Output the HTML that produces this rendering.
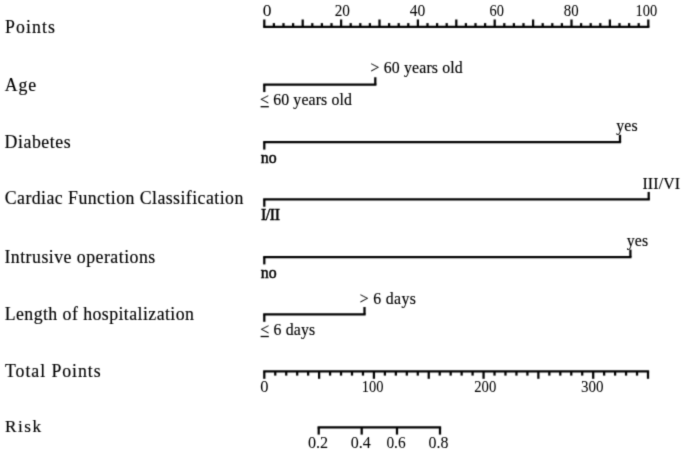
<!DOCTYPE html>
<html><head><meta charset="utf-8"><style>
html,body{margin:0;padding:0;background:#fff;}
body{width:685px;height:452px;overflow:hidden;}
svg{display:block;}
text{font-family:"Liberation Serif",serif;fill:#000;stroke:#000;stroke-width:0.15px;}
text.n{stroke-width:0.05px;}
text.b{stroke-width:0.5px;}
</style></head><body>
<svg width="685" height="452" viewBox="0 0 685 452">
<defs><filter id="f" x="0" y="0" width="685" height="452" filterUnits="userSpaceOnUse" color-interpolation-filters="sRGB"><feConvolveMatrix order="3" kernelMatrix="0.02768 0.11101 0.02768 0.11101 0.44521 0.11101 0.02768 0.11101 0.02768" edgeMode="duplicate"/></filter>
<filter id="ft" x="0" y="0" width="685" height="452" filterUnits="userSpaceOnUse" color-interpolation-filters="sRGB"><feConvolveMatrix order="3" kernelMatrix="0.01917 0.10012 0.01917 0.10012 0.52283 0.10012 0.01917 0.10012 0.01917" edgeMode="duplicate"/></filter></defs>
<rect width="685" height="452" fill="#fff"/>
<g filter="url(#f)">
<g stroke="#000" stroke-width="2.25" fill="none">
<line x1="263.18" y1="26.80" x2="649.42" y2="26.80"/>
<line x1="264.30" y1="26.80" x2="264.30" y2="19.50"/>
<line x1="273.90" y1="26.80" x2="273.90" y2="23.10"/>
<line x1="283.50" y1="26.80" x2="283.50" y2="23.10"/>
<line x1="293.10" y1="26.80" x2="293.10" y2="23.10"/>
<line x1="302.70" y1="26.80" x2="302.70" y2="19.50"/>
<line x1="312.30" y1="26.80" x2="312.30" y2="23.10"/>
<line x1="321.90" y1="26.80" x2="321.90" y2="23.10"/>
<line x1="331.50" y1="26.80" x2="331.50" y2="23.10"/>
<line x1="341.10" y1="26.80" x2="341.10" y2="19.50"/>
<line x1="350.70" y1="26.80" x2="350.70" y2="23.10"/>
<line x1="360.30" y1="26.80" x2="360.30" y2="23.10"/>
<line x1="369.90" y1="26.80" x2="369.90" y2="23.10"/>
<line x1="379.50" y1="26.80" x2="379.50" y2="19.50"/>
<line x1="389.10" y1="26.80" x2="389.10" y2="23.10"/>
<line x1="398.70" y1="26.80" x2="398.70" y2="23.10"/>
<line x1="408.30" y1="26.80" x2="408.30" y2="23.10"/>
<line x1="417.90" y1="26.80" x2="417.90" y2="19.50"/>
<line x1="427.50" y1="26.80" x2="427.50" y2="23.10"/>
<line x1="437.10" y1="26.80" x2="437.10" y2="23.10"/>
<line x1="446.70" y1="26.80" x2="446.70" y2="23.10"/>
<line x1="456.30" y1="26.80" x2="456.30" y2="19.50"/>
<line x1="465.90" y1="26.80" x2="465.90" y2="23.10"/>
<line x1="475.50" y1="26.80" x2="475.50" y2="23.10"/>
<line x1="485.10" y1="26.80" x2="485.10" y2="23.10"/>
<line x1="494.70" y1="26.80" x2="494.70" y2="19.50"/>
<line x1="504.30" y1="26.80" x2="504.30" y2="23.10"/>
<line x1="513.90" y1="26.80" x2="513.90" y2="23.10"/>
<line x1="523.50" y1="26.80" x2="523.50" y2="23.10"/>
<line x1="533.10" y1="26.80" x2="533.10" y2="19.50"/>
<line x1="542.70" y1="26.80" x2="542.70" y2="23.10"/>
<line x1="552.30" y1="26.80" x2="552.30" y2="23.10"/>
<line x1="561.90" y1="26.80" x2="561.90" y2="23.10"/>
<line x1="571.50" y1="26.80" x2="571.50" y2="19.50"/>
<line x1="581.10" y1="26.80" x2="581.10" y2="23.10"/>
<line x1="590.70" y1="26.80" x2="590.70" y2="23.10"/>
<line x1="600.30" y1="26.80" x2="600.30" y2="23.10"/>
<line x1="609.90" y1="26.80" x2="609.90" y2="19.50"/>
<line x1="619.50" y1="26.80" x2="619.50" y2="23.10"/>
<line x1="629.10" y1="26.80" x2="629.10" y2="23.10"/>
<line x1="638.70" y1="26.80" x2="638.70" y2="23.10"/>
<line x1="648.30" y1="26.80" x2="648.30" y2="19.50"/>
<line x1="263.18" y1="84.65" x2="376.43" y2="84.65"/>
<line x1="264.30" y1="84.65" x2="264.30" y2="92.05"/>
<line x1="375.30" y1="84.65" x2="375.30" y2="77.25"/>
<line x1="263.18" y1="142.20" x2="621.12" y2="142.20"/>
<line x1="264.30" y1="142.20" x2="264.30" y2="149.60"/>
<line x1="620.00" y1="142.20" x2="620.00" y2="134.80"/>
<line x1="263.18" y1="199.35" x2="649.83" y2="199.35"/>
<line x1="264.30" y1="199.35" x2="264.30" y2="206.75"/>
<line x1="648.70" y1="199.35" x2="648.70" y2="191.95"/>
<line x1="263.18" y1="257.00" x2="631.52" y2="257.00"/>
<line x1="264.30" y1="257.00" x2="264.30" y2="264.40"/>
<line x1="630.40" y1="257.00" x2="630.40" y2="249.60"/>
<line x1="263.18" y1="314.40" x2="365.62" y2="314.40"/>
<line x1="264.30" y1="314.40" x2="264.30" y2="321.80"/>
<line x1="364.50" y1="314.40" x2="364.50" y2="307.00"/>
<line x1="263.18" y1="371.40" x2="649.12" y2="371.40"/>
<line x1="264.30" y1="371.40" x2="264.30" y2="378.80"/>
<line x1="275.26" y1="371.40" x2="275.26" y2="375.60"/>
<line x1="286.23" y1="371.40" x2="286.23" y2="375.60"/>
<line x1="297.19" y1="371.40" x2="297.19" y2="375.60"/>
<line x1="308.15" y1="371.40" x2="308.15" y2="375.60"/>
<line x1="319.11" y1="371.40" x2="319.11" y2="378.80"/>
<line x1="330.08" y1="371.40" x2="330.08" y2="375.60"/>
<line x1="341.04" y1="371.40" x2="341.04" y2="375.60"/>
<line x1="352.00" y1="371.40" x2="352.00" y2="375.60"/>
<line x1="362.97" y1="371.40" x2="362.97" y2="375.60"/>
<line x1="373.93" y1="371.40" x2="373.93" y2="378.80"/>
<line x1="384.89" y1="371.40" x2="384.89" y2="375.60"/>
<line x1="395.85" y1="371.40" x2="395.85" y2="375.60"/>
<line x1="406.82" y1="371.40" x2="406.82" y2="375.60"/>
<line x1="417.78" y1="371.40" x2="417.78" y2="375.60"/>
<line x1="428.74" y1="371.40" x2="428.74" y2="378.80"/>
<line x1="439.71" y1="371.40" x2="439.71" y2="375.60"/>
<line x1="450.67" y1="371.40" x2="450.67" y2="375.60"/>
<line x1="461.63" y1="371.40" x2="461.63" y2="375.60"/>
<line x1="472.59" y1="371.40" x2="472.59" y2="375.60"/>
<line x1="483.56" y1="371.40" x2="483.56" y2="378.80"/>
<line x1="494.52" y1="371.40" x2="494.52" y2="375.60"/>
<line x1="505.48" y1="371.40" x2="505.48" y2="375.60"/>
<line x1="516.45" y1="371.40" x2="516.45" y2="375.60"/>
<line x1="527.41" y1="371.40" x2="527.41" y2="375.60"/>
<line x1="538.37" y1="371.40" x2="538.37" y2="378.80"/>
<line x1="549.33" y1="371.40" x2="549.33" y2="375.60"/>
<line x1="560.30" y1="371.40" x2="560.30" y2="375.60"/>
<line x1="571.26" y1="371.40" x2="571.26" y2="375.60"/>
<line x1="582.22" y1="371.40" x2="582.22" y2="375.60"/>
<line x1="593.19" y1="371.40" x2="593.19" y2="378.80"/>
<line x1="604.15" y1="371.40" x2="604.15" y2="375.60"/>
<line x1="615.11" y1="371.40" x2="615.11" y2="375.60"/>
<line x1="626.07" y1="371.40" x2="626.07" y2="375.60"/>
<line x1="637.04" y1="371.40" x2="637.04" y2="375.60"/>
<line x1="648.00" y1="371.40" x2="648.00" y2="378.80"/>
<line x1="317.57" y1="427.40" x2="441.12" y2="427.40"/>
<line x1="318.70" y1="427.40" x2="318.70" y2="434.60"/>
<line x1="361.70" y1="427.40" x2="361.70" y2="434.60"/>
<line x1="397.00" y1="427.40" x2="397.00" y2="434.60"/>
<line x1="440.00" y1="427.40" x2="440.00" y2="434.60"/>
</g>
</g>
<g filter="url(#ft)">
<text x="5.00" y="32.60" font-size="17.8" letter-spacing="1.070">Points</text>
<text x="4.85" y="91.40" font-size="17.8" letter-spacing="0.775">Age</text>
<text x="4.60" y="148.40" font-size="17.8" letter-spacing="0.543">Diabetes</text>
<text x="4.75" y="203.80" font-size="17.8" letter-spacing="0.445">Cardiac Function Classification</text>
<text x="4.45" y="263.00" font-size="17.8" letter-spacing="0.476">Intrusive operations</text>
<text x="4.70" y="320.00" font-size="17.8" letter-spacing="0.438">Length of hospitalization</text>
<text x="5.05" y="376.60" font-size="17.8" letter-spacing="0.941">Total Points</text>
<text x="5.00" y="432.10" font-size="17.2" letter-spacing="1.500">Risk</text>
<text x="370.55" y="73.20" font-size="15.8" letter-spacing="0.165">&gt; 60 years old</text>
<text x="260.05" y="105.30" font-size="15.8" letter-spacing="0.142">&lt; 60 years old</text>
<text x="616.15" y="131.00" font-size="15.8" letter-spacing="0.225">yes</text>
<text class="b" x="260.75" y="163.40" font-size="15.8" letter-spacing="-0.000">no</text>
<text x="642.40" y="188.70" font-size="15.8" letter-spacing="0.170">III/VI</text>
<text class="b" x="260.90" y="220.30" font-size="15.8" letter-spacing="-0.350">I/II</text>
<text x="626.75" y="245.80" font-size="15.8" letter-spacing="0.125">yes</text>
<text class="b" x="260.75" y="278.40" font-size="15.8" letter-spacing="-0.000">no</text>
<text x="359.65" y="303.60" font-size="15.8" letter-spacing="0.364">&gt; 6 days</text>
<text x="260.15" y="335.20" font-size="15.8" letter-spacing="0.207">&lt; 6 days</text>
<text class="n" transform="translate(262.64,16.00) scale(1.007,1)" font-size="17.3">0</text>
<text class="n" transform="translate(334.74,16.00) scale(0.883,1)" font-size="17.3">20</text>
<text class="n" transform="translate(409.78,16.00) scale(0.898,1)" font-size="17.3">40</text>
<text class="n" transform="translate(489.58,16.00) scale(0.832,1)" font-size="17.3">60</text>
<text class="n" transform="translate(563.86,16.00) scale(0.857,1)" font-size="17.3">80</text>
<text class="n" transform="translate(635.55,16.00) scale(0.834,1)" font-size="17.3">100</text>
<text class="n" transform="translate(260.19,392.40) scale(0.952,1)" font-size="17.3">0</text>
<text class="n" transform="translate(361.84,392.40) scale(0.838,1)" font-size="17.3">100</text>
<text class="n" transform="translate(474.26,392.40) scale(0.849,1)" font-size="17.3">200</text>
<text class="n" transform="translate(581.05,392.40) scale(0.869,1)" font-size="17.3">300</text>
<text class="n" transform="translate(308.00,448.40) scale(0.935,1)" font-size="17.3">0.2</text>
<text class="n" transform="translate(350.80,448.40) scale(0.927,1)" font-size="17.3">0.4</text>
<text class="n" transform="translate(386.43,448.40) scale(0.889,1)" font-size="17.3">0.6</text>
<text class="n" transform="translate(428.51,448.40) scale(0.919,1)" font-size="17.3">0.8</text>
<line x1="260.6" y1="106.7" x2="268.8" y2="106.7" stroke="#000" stroke-width="1.3"/><line x1="260.6" y1="336.5" x2="268.8" y2="336.5" stroke="#000" stroke-width="1.3"/>
</g>
</svg>
</body></html>
